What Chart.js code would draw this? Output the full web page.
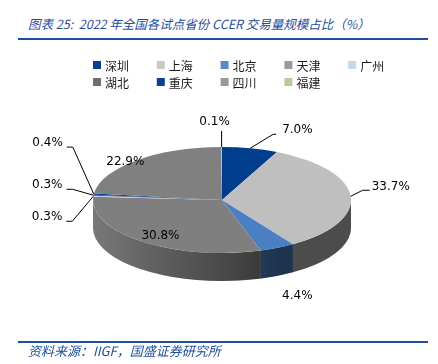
<!DOCTYPE html>
<html>
<head>
<meta charset="utf-8">
<script src="https://cdn.jsdelivr.net/npm/chart.js@4"></script>
<style>
  body { margin: 0; background: #fff; }
  #wrap { position: relative; width: 438px; height: 364px; overflow: hidden; }
  .title { position: absolute; left: 28px; top: 14px; font: italic 12.5px "Noto Sans CJK SC"; color: #1f4e9c; white-space: nowrap; }
  .rule { position: absolute; left: 18px; width: 410px; height: 2px; background: #1f4e9c; }
  .src { position: absolute; left: 28px; top: 341px; font: italic 13px "Noto Sans CJK SC"; color: #1f4e9c; white-space: nowrap; }
  canvas { position: absolute; left: 0; top: 0; }
</style>
</head>
<body>
<div id="wrap">
  <div class="title">图表 25:&nbsp; 2022 年全国各试点省份 CCER 交易量规模占比（%）</div>
  <div class="rule" style="top:38px"></div>
  <canvas id="pie" width="438" height="364"></canvas>
  <div class="rule" style="top:341px"></div>
  <div class="src">资料来源：IIGF，国盛证券研究所</div>
</div>
<script>
// data
const provinces = ['深圳', '上海', '北京', '天津', '广州', '湖北', '重庆', '四川', '福建'];
const shares = [7.0, 33.7, 4.4, 30.8, 0.3, 0.3, 0.4, 22.9, 0.1];

const pieColors = ['#003d8c', '#bfbfbf', '#4a7fc1', '#7f7f7f', '#bccde6', '#606060', '#003d8c', '#808080', '#aac48c'];
const legendColors = ['#0a3f94', '#cacaca', '#5a8ac6', '#999999', '#c6d6ee', '#6e6e6e', '#0a3f94', '#999999', '#b6cc98'];

const K = 53 / 129;   // squash of the top face
const DEPTH = 28;     // height of the side wall

// label placement, relative to the rim point at each slice's middle angle
const labelLayout = [
  { leader: [[23, -14], [26, -14]], at: [32, -18], align: 'left' },
  { leader: [[12, -6], [19, -6]], at: [21, -9], align: 'left' },
  { front: true, at: [20, 20], align: 'center' },
  { inside: 0.8, at: [2, 2] },
  { leader: [[-21, 25], [-27, 25]], at: [-31, 21], align: 'right' },
  { leader: [[-21, -6], [-27, -6]], at: [-31, -10], align: 'right' },
  { leader: [[-21, -47], [-27, -47]], at: [-31, -51], align: 'right' },
  { inside: 1.0, at: [-11, 1] },
  { leader: [[0, -16]], at: [-7, -25], align: 'center' }
];

const pie3d = {
  id: 'pie3d',
  beforeDatasetsDraw(chart) {
    const ctx = chart.ctx;
    const arcs = chart.getDatasetMeta(0).data;
    const { x, y, outerRadius: r } = arcs[0];
    ctx.save();
    arcs.forEach((arc, i) => {
      const a = Math.max(arc.startAngle, 0);
      const b = Math.min(arc.endAngle, Math.PI);
      if (b <= a) return;
      ctx.beginPath();
      ctx.ellipse(x, y, r, r * K, 0, a, b);
      ctx.ellipse(x, y + DEPTH, r, r * K, 0, b, a, true);
      ctx.closePath();
      ctx.fillStyle = pieColors[i];
      ctx.fill();
    });
    // cylinder shading on the wall
    const g = ctx.createLinearGradient(x - r, 0, x + r, 0);
    g.addColorStop(0, 'rgba(0,0,0,0.05)');
    g.addColorStop(0.25, 'rgba(0,0,0,0.25)');
    g.addColorStop(0.5, 'rgba(0,0,0,0.42)');
    g.addColorStop(0.72, 'rgba(0,0,0,0.6)');
    g.addColorStop(1, 'rgba(0,0,0,0.6)');
    ctx.beginPath();
    ctx.ellipse(x, y, r, r * K, 0, 0, Math.PI);
    ctx.ellipse(x, y + DEPTH, r, r * K, 0, Math.PI, 0, true);
    ctx.closePath();
    ctx.fillStyle = g;
    ctx.fill();
    ctx.restore();

    // squash the pie itself into an ellipse
    ctx.save();
    ctx.translate(x, y);
    ctx.scale(1, K);
    ctx.translate(-x, -y);
  },
  afterDatasetsDraw(chart) {
    const ctx = chart.ctx;
    ctx.restore();

    const arcs = chart.getDatasetMeta(0).data;
    ctx.save();
    ctx.font = '12px "DejaVu Sans"';
    ctx.textBaseline = 'middle';
    ctx.fillStyle = '#000';
    ctx.strokeStyle = '#000';
    ctx.lineWidth = 1;
    arcs.forEach((arc, i) => {
      const L = labelLayout[i];
      const mid = (arc.startAngle + arc.endAngle) / 2;
      const r = arc.outerRadius;
      const text = shares[i].toFixed(1) + '%';
      if (L.inside) {
        ctx.textAlign = 'center';
        ctx.fillText(text,
          arc.x + r * L.inside * Math.cos(mid) + L.at[0],
          arc.y + r * K * L.inside * Math.sin(mid) + L.at[1]);
        return;
      }
      const px = arc.x + r * Math.cos(mid);
      const py = arc.y + r * K * Math.sin(mid) + (L.front ? DEPTH : 0);
      if (L.leader) {
        ctx.beginPath();
        ctx.moveTo(px, py);
        L.leader.forEach(p => ctx.lineTo(px + p[0], py + p[1]));
        ctx.stroke();
      }
      ctx.textAlign = L.align;
      ctx.fillText(text, px + L.at[0], py + L.at[1]);
    });
    ctx.restore();
  },
  afterDraw(chart) {
    // legend: 5 columns, 2 rows
    const ctx = chart.ctx;
    ctx.save();
    ctx.font = '12px "Noto Sans CJK SC"';
    ctx.textBaseline = 'middle';
    ctx.textAlign = 'left';
    provinces.forEach((name, i) => {
      const bx = 93 + (i % 5) * 63.8;
      const cy = 65 + Math.floor(i / 5) * 17;
      ctx.fillStyle = legendColors[i];
      ctx.fillRect(bx, cy - 4, 8, 8);
      ctx.fillStyle = '#1a1a1a';
      ctx.fillText(name, bx + 12, cy + 1);
    });
    ctx.restore();
  }
};

new Chart(document.getElementById('pie'), {
  type: 'pie',
  data: {
    labels: provinces,
    datasets: [{
      data: shares,
      backgroundColor: pieColors,
      borderWidth: 0,
      hoverOffset: 0
    }]
  },
  options: {
    responsive: false,
    animation: false,
    layout: { padding: { left: 6, right: 0, top: 71, bottom: 35 } },
    plugins: {
      legend: { display: false },
      tooltip: { enabled: false }
    }
  },
  plugins: [pie3d]
});
</script>
</body>
</html>
